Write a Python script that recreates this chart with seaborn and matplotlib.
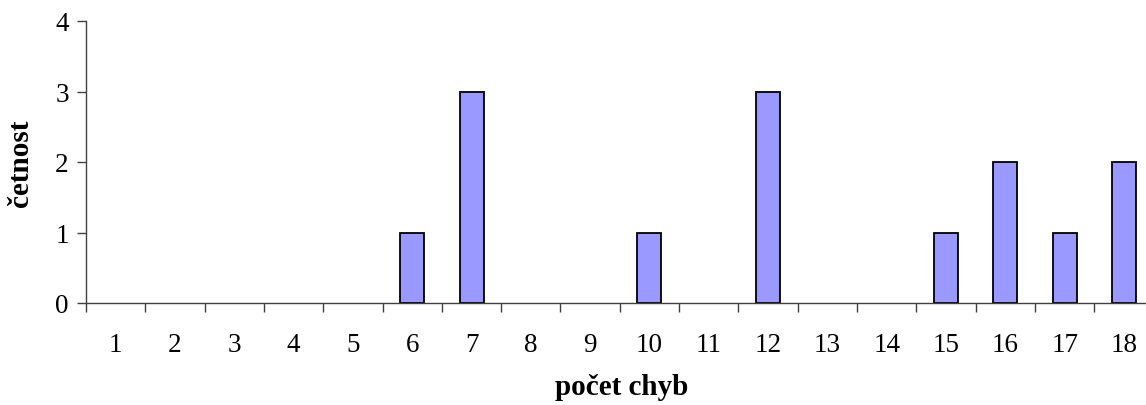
import matplotlib
matplotlib.use("Agg")
import matplotlib.pyplot as plt
from matplotlib.ticker import FixedLocator
import seaborn as sns
import pandas as pd
import numpy as np

categories = [str(i) for i in range(1, 19)]
counts = [0, 0, 0, 0, 0, 1, 3, 0, 0, 1, 0, 3, 0, 0, 1, 2, 1, 2]
y_ticks = [0, 1, 2, 3, 4]
x_title = "počet chyb"
y_title = "četnost"

sns.set_theme(style="white")
plt.rcParams['font.family'] = ['Liberation Serif', 'DejaVu Serif']
plt.rcParams['text.color'] = 'black'

df = pd.DataFrame({"cat": categories, "val": counts})

fig = plt.figure(figsize=(11.46, 4.06), dpi=100)
ax = fig.add_axes([86/1146, 102/406, 1067.6/1146, 282/406])

sns.barplot(data=df, x="cat", y="val", order=categories, color="#9999FF",
            saturation=1, width=0.405, edgecolor="black", linewidth=1.3, ax=ax)
for p in ax.patches:
    if p.get_height() == 0:
        p.set_visible(False)

ax.set_xlim(-0.5, len(categories) - 0.5)
ax.set_ylim(0, 4)
ax.set_yticks(y_ticks)
ax.set_yticklabels([str(t) for t in y_ticks])
ax.set_xticks(range(len(categories)))
ax.set_xticklabels(categories)
ax.xaxis.set_minor_locator(FixedLocator(np.arange(-0.5, len(categories), 1.0)))

spine_color = "#404040"
for s in ["top", "right"]:
    ax.spines[s].set_visible(False)
for s in ["left", "bottom"]:
    ax.spines[s].set_color(spine_color)
    ax.spines[s].set_linewidth(1.0)

ax.tick_params(axis="y", which="major", direction="out", length=6.5, width=1.0,
               color=spine_color, pad=6, left=True, labelcolor="black",
               labelsize=19.5)
ax.tick_params(axis="x", which="major", length=0, pad=21, labelcolor="black",
               labelsize=19.5)
ax.tick_params(axis="x", which="minor", direction="out", length=6.5, width=1.0,
               color=spine_color, bottom=True)

ax.set_xlabel(x_title, fontsize=21, fontweight="bold", color="black")
ax.set_ylabel(y_title, fontsize=21, fontweight="bold", color="black")
ax.xaxis.set_label_coords((622 - 86) / 1067.6, (304 - 374) / 282)
ax.yaxis.set_label_coords((34 - 86) / 1067.6, 0.5)
ax.grid(False)

fig.savefig("out.png", dpi=100, facecolor="white")
